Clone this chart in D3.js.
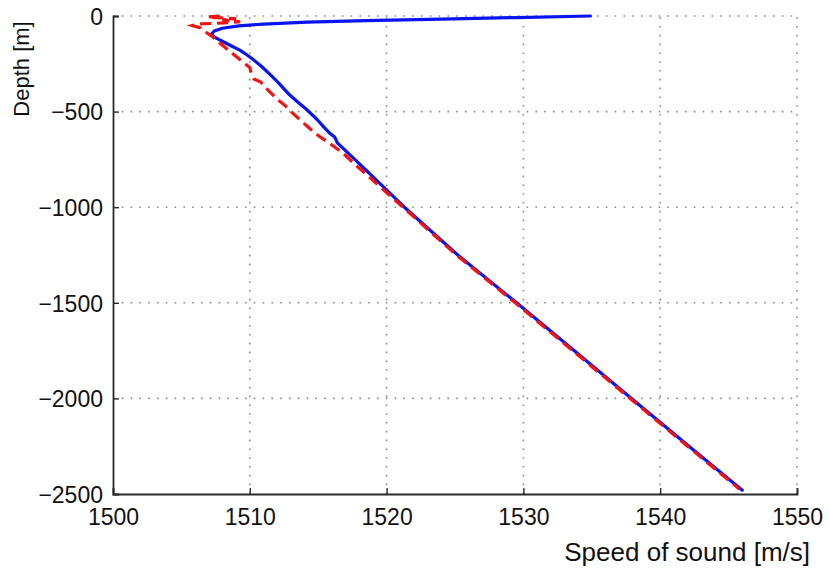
<!DOCTYPE html>
<html>
<head>
<meta charset="utf-8">
<script src="https://cdn.jsdelivr.net/npm/d3@7"></script>
<style>
  html, body { margin: 0; padding: 0; background: #fff; }
  svg { display: block; font-family: "Liberation Sans", Arial, sans-serif; }
</style>
</head>
<body>
<svg id="chart" width="830" height="570"></svg>
<script>
// Sound speed profiles: depth (m, negative downward) vs speed of sound (m/s)
const xTicks = [1500, 1510, 1520, 1530, 1540, 1550];
const yTicks = [0, -500, -1000, -1500, -2000, -2500];

// Measured profile (solid blue)
const blueDepth = [0, -8, -16, -24, -32, -42, -52, -64, -78, -95, -110, -125, -140, -158, -180, -204, -225, -260, -300, -350, -405, -450, -492, -540, -580, -610, -633, -648, -664, -800, -1000, -1250, -1500, -1750, -2000, -2250, -2480];
const blueSpeed = [1534.9, 1529.5, 1524.0, 1518.5, 1514.2, 1511.0, 1509.2, 1508.0, 1507.4, 1507.2, 1507.4, 1507.8, 1508.2, 1508.7, 1509.3, 1509.8, 1510.2, 1510.8, 1511.4, 1512.1, 1512.8, 1513.5, 1514.2, 1514.9, 1515.4, 1515.8, 1516.2, 1516.3, 1516.4, 1518.4, 1521.3, 1525.2, 1529.5, 1533.7, 1537.9, 1542.1, 1546.0];

// Reference profile (dashed red)
const redDepth = [0, -5, -10, -14, -20, -30, -38, -42, -50, -62, -85, -110, -135, -165, -200, -235, -270, -300, -330, -345, -370, -400, -435, -470, -505, -545, -590, -630, -660, -690, -730, -770, -1000, -1250, -1500, -1750, -2000, -2250, -2475];
const redSpeed = [1507.8, 1506.9, 1507.9, 1509.0, 1508.0, 1509.3, 1507.6, 1506.2, 1505.8, 1506.4, 1506.8, 1507.3, 1507.7, 1508.2, 1508.8, 1509.4, 1510.0, 1510.1, 1510.3, 1510.8, 1511.1, 1511.5, 1512.0, 1512.6, 1513.1, 1513.7, 1514.4, 1515.1, 1515.7, 1516.3, 1517.0, 1517.6, 1521.2, 1525.1, 1529.4, 1533.6, 1537.8, 1542.0, 1545.8];

const svg = d3.select("#chart");
const plotLeft = 113, plotRight = 797, plotTop = 16, plotBottom = 494;

const x = d3.scaleLinear().domain([1500, 1550]).range([plotLeft, plotRight]);
const y = d3.scaleLinear().domain([-2500, 0]).range([plotBottom, plotTop]);

// Dotted grid
const grid = svg.append("g").attr("stroke", "#8a8a8a").attr("stroke-width", 1.6)
  .attr("stroke-dasharray", "1.6,7.2");
grid.selectAll("line.v").data(xTicks.slice(1)).join("line").attr("class", "v")
  .attr("x1", d => x(d)).attr("x2", d => x(d))
  .attr("y1", plotBottom).attr("y2", plotTop);
grid.selectAll("line.h").data(yTicks.slice(0, -1)).join("line").attr("class", "h")
  .attr("x1", plotLeft).attr("x2", plotRight)
  .attr("y1", d => y(d)).attr("y2", d => y(d));

// Axes (left and bottom, ticks pointing inward)
const axisColor = "#2b2b2b";
const xAxis = d3.axisBottom(x).tickValues(xTicks).tickSize(-6).tickPadding(14).tickFormat(d3.format("d"));
const yAxis = d3.axisLeft(y).tickValues(yTicks).tickSize(-6).tickPadding(10)
  .tickFormat(d => d < 0 ? "\u2212" + Math.abs(d) : String(d));

const gx = svg.append("g").attr("transform", `translate(0,${plotBottom})`).call(xAxis);
const gy = svg.append("g").attr("transform", `translate(${plotLeft},0)`).call(yAxis);
[gx, gy].forEach(g => {
  g.select(".domain").attr("stroke", axisColor).attr("stroke-width", 1.8);
  g.selectAll(".tick line").attr("stroke", axisColor).attr("stroke-width", 1.4);
  g.selectAll(".tick text").attr("fill", "#111").attr("font-size", 23)
    .attr("font-family", "'Liberation Sans', Arial, sans-serif");
});
gy.selectAll(".tick text").attr("dy", "0.36em");
gx.selectAll(".tick text").attr("dy", "0.74em");

// Profiles
const line = d3.line().x(d => x(d[0])).y(d => y(d[1]));
const blue = blueSpeed.map((s, i) => [s, blueDepth[i]]);
const red = redSpeed.map((s, i) => [s, redDepth[i]]);

svg.append("path").datum(blue).attr("d", line)
  .attr("fill", "none").attr("stroke", "#0a14f0").attr("stroke-width", 3.2)
  .attr("stroke-linejoin", "round").attr("stroke-linecap", "round");
svg.append("path").datum(red).attr("d", line)
  .attr("fill", "none").attr("stroke", "#f01414").attr("stroke-width", 3.2)
  .attr("stroke-dasharray", "11,6");

// Axis titles
svg.append("text").attr("transform", "translate(29,69) rotate(-90)")
  .attr("text-anchor", "middle").attr("font-size", 22).attr("fill", "#111")
  .text("Depth [m]");
svg.append("text").attr("x", 810).attr("y", 561)
  .attr("text-anchor", "end").attr("font-size", 26).attr("fill", "#111")
  .text("Speed of sound [m/s]");
</script>
</body>
</html>
